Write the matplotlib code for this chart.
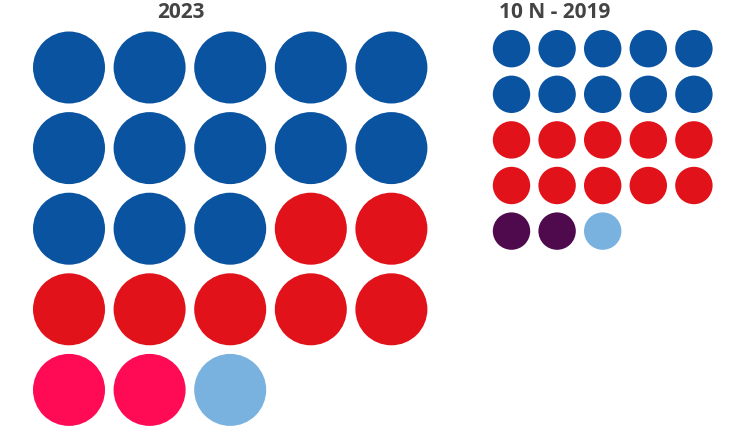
import matplotlib
matplotlib.use("Agg")
import matplotlib.pyplot as plt
from matplotlib.patches import Circle

# Data
titles = ["2023", "10 N - 2019"]
parties_2023 = ["Azul", "Rojo", "Rosa", "Celeste"]
seats_2023 = [13, 7, 2, 1]
colors_2023 = ["#0A53A0", "#E1121A", "#FE0A55", "#79B1DF"]
parties_2019 = ["Azul", "Rojo", "Morado", "Celeste"]
seats_2019 = [10, 10, 2, 1]
colors_2019 = ["#0A53A0", "#E1121A", "#4F0A4D", "#79B1DF"]

W, H = 755, 440
fig = plt.figure(figsize=(W / 100, H / 100), dpi=100)
ax = fig.add_axes([0, 0, 1, 1])
ax.set_xlim(0, W)
ax.set_ylim(H, 0)
ax.set_aspect("equal")
ax.axis("off")

def draw_grid(seats, colors, x0, y0, step, r, ncols=5):
    i = 0
    for n, c in zip(seats, colors):
        for _ in range(n):
            row, col = divmod(i, ncols)
            ax.add_patch(Circle((x0 + col * step, y0 + row * step), r,
                                facecolor=c, edgecolor="none"))
            i += 1

draw_grid(seats_2023, colors_2023, 69, 67.5, 80.6, 36)
draw_grid(seats_2019, colors_2019, 511.5, 48.7, 45.6, 18.7)

tkw = dict(ha="center", va="center", fontsize=15, fontweight="bold",
           color="#444444", family=["Open Sans", "DejaVu Sans"])
ax.text(181, 12, titles[0], **tkw)
ax.text(555, 12, titles[1], **tkw)

fig.savefig("out.png", dpi=100, facecolor="white")
